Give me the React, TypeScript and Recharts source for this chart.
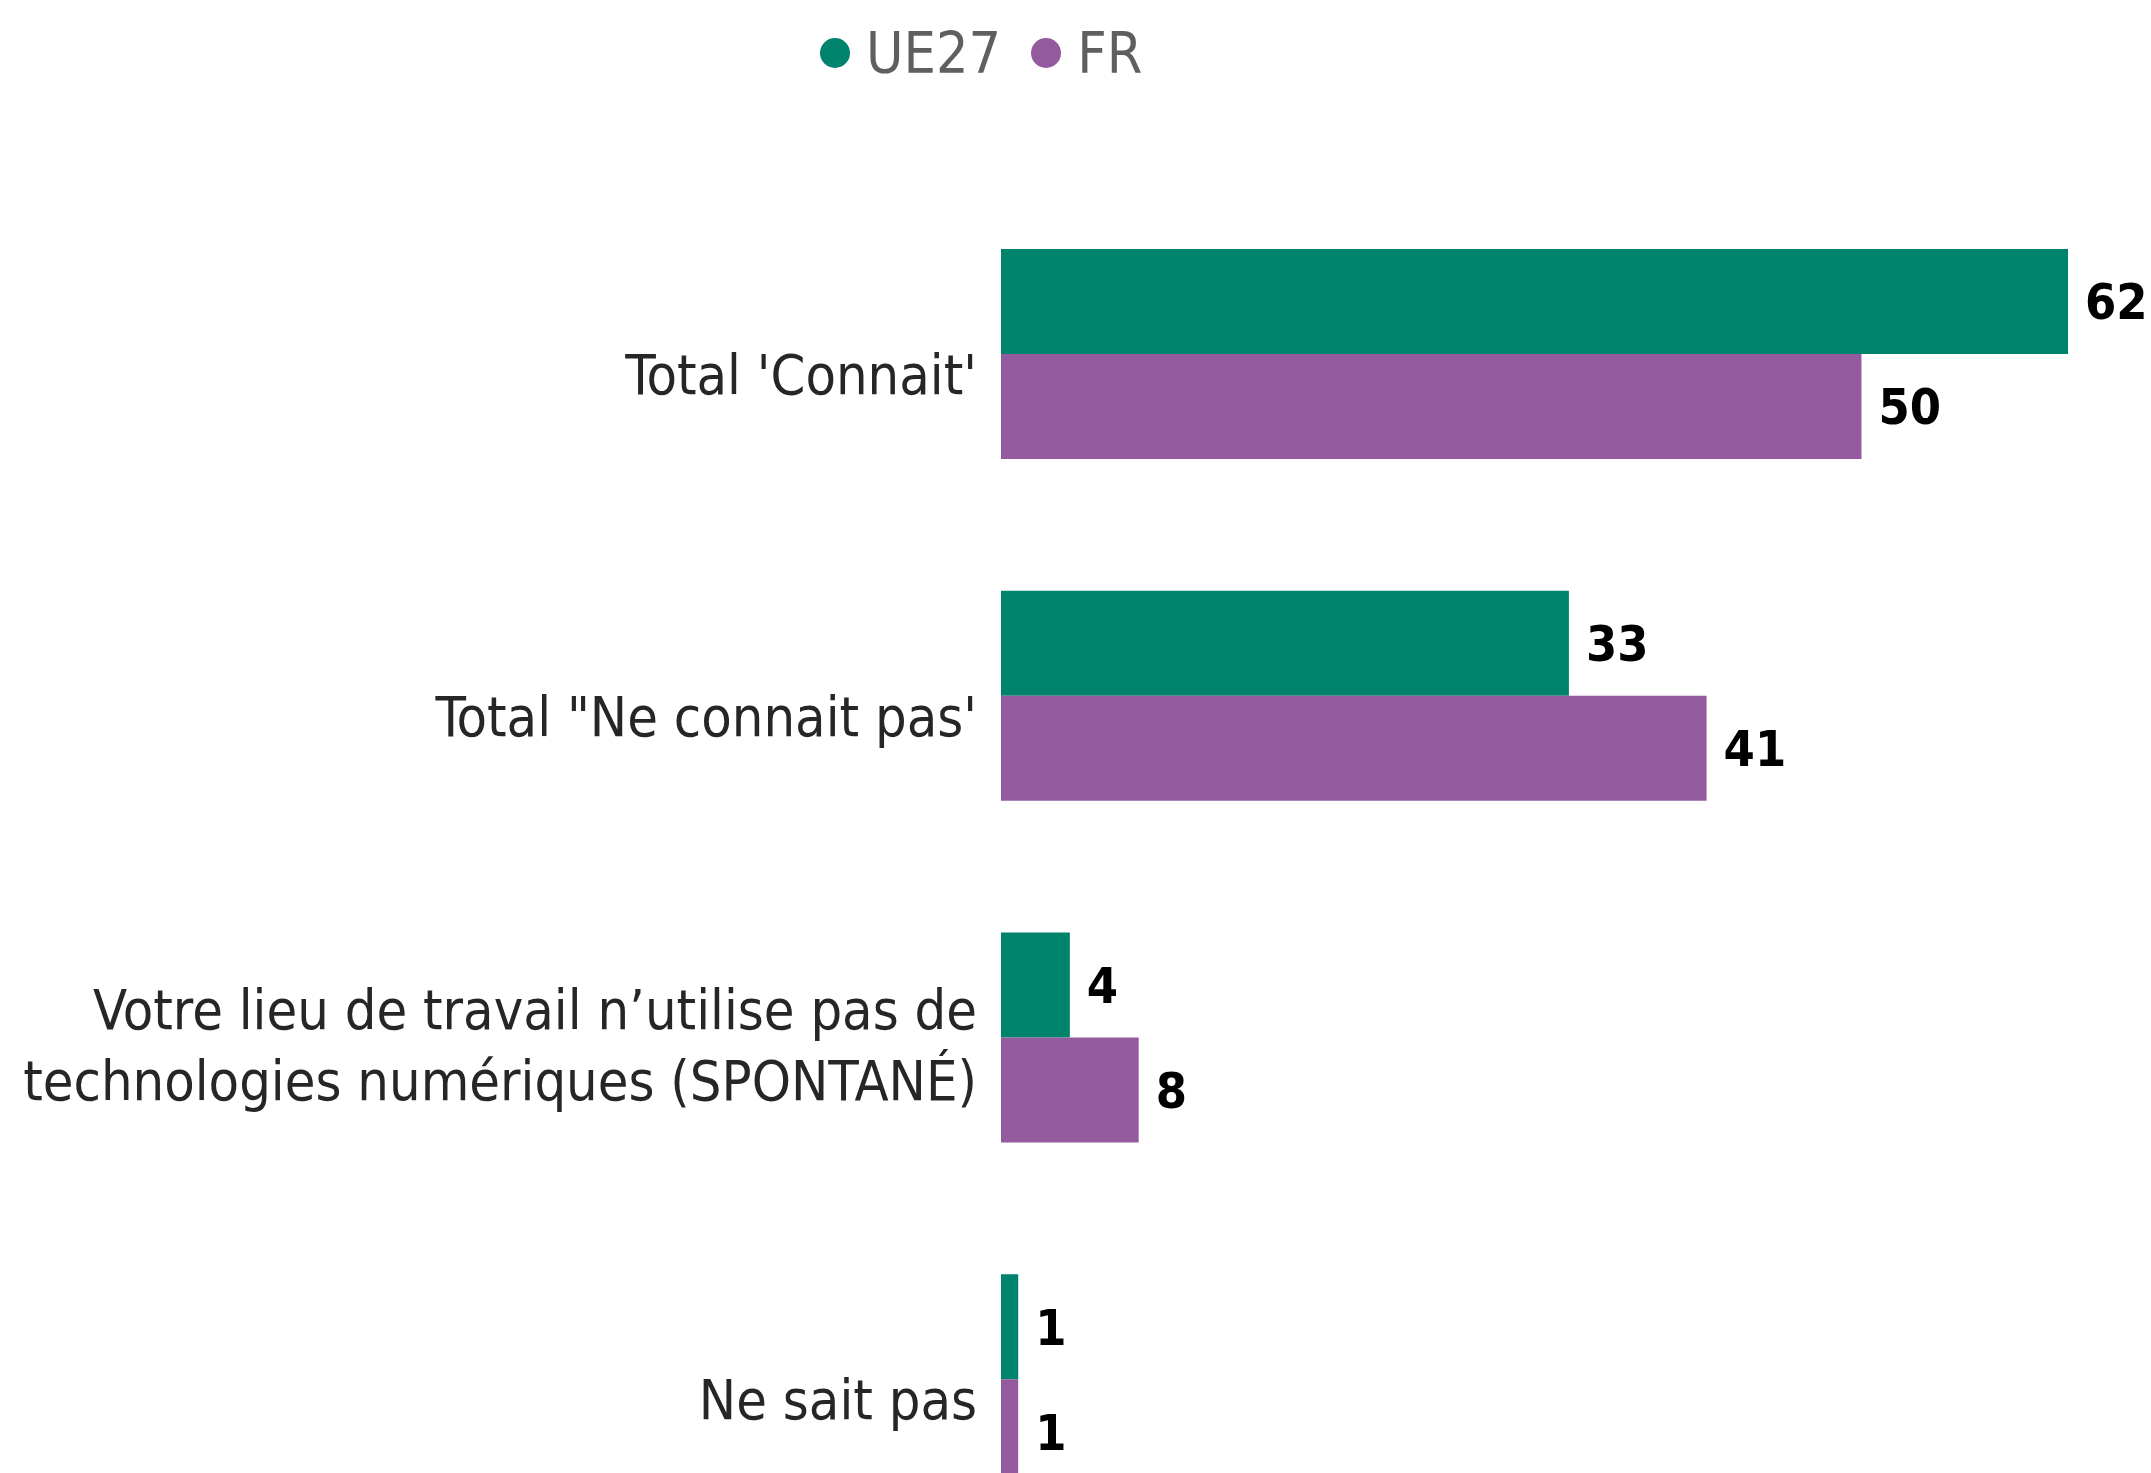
import { BarChart, Bar, XAxis, YAxis, LabelList } from "recharts";

const categories = [
  "Total 'Connait'",
  'Total "Ne connait pas\'',
  "Votre lieu de travail n’utilise pas de|technologies numériques (SPONTANÉ)",
  "Ne sait pas",
];
const ue27 = [62, 33, 4, 1];
const fr = [50, 41, 8, 1];
const seriesNames = ["UE27", "FR"];

const data = categories.map((name, i) => ({ name, ue27: ue27[i], fr: fr[i] }));

const GREEN = "#00836D";
const PURPLE = "#935A9D";
const FONT = "'DejaVu Sans Condensed', 'DejaVu Sans', sans-serif";

const CategoryTick = (props: any) => {
  const { x, y, payload } = props;
  const lines = String(payload.value).split("|");
  const first = y + 40 - (lines.length - 1) * 48;
  return (
    <text x={x} y={first} textAnchor="end" fill="#262626" fontSize={55.5} fontFamily={FONT}>
      {lines.map((l, i) => (
        <tspan key={i} x={x} dy={i === 0 ? 0 : 71}>
          {l}
        </tspan>
      ))}
    </text>
  );
};

const LegendBox = () => (
  <div
    style={{
      position: "absolute",
      top: 19,
      left: 820,
      display: "flex",
      alignItems: "center",
      fontFamily: FONT,
      fontSize: 57,
      color: "#5f5f5f",
      lineHeight: "68px",
    }}
  >
    {seriesNames.map((label, i) => (
      <div key={label} style={{ display: "flex", alignItems: "center", marginRight: 30 }}>
        <span
          style={{
            width: 30,
            height: 30,
            borderRadius: 15,
            background: i === 0 ? GREEN : PURPLE,
            marginRight: 16,
            display: "inline-block",
          }}
        />
        <span>{label}</span>
      </div>
    ))}
  </div>
);

export default function App() {
  return (
    <div style={{ position: "absolute", left: 0, top: 0, width: 2151, height: 1473, overflow: "hidden", background: "#fff" }}>
      <LegendBox />
      <BarChart
        width={2151}
        height={1560}
        data={data}
        layout="vertical"
        barSize={105}
        barGap={0}
        margin={{ top: 183, right: 83, bottom: 10, left: 0 }}
      >
        <XAxis type="number" domain={[0, 62]} hide />
        <YAxis
          type="category"
          dataKey="name"
          width={1001}
          axisLine={false}
          tickLine={false}
          tickSize={0}
          tickMargin={24}
          interval={0}
          tick={<CategoryTick />}
        />
        <Bar dataKey="ue27" name={seriesNames[0]} fill={GREEN} isAnimationActive={false}>
          <LabelList dataKey="ue27" position="right" offset={17} fill="#000" fontSize={50} fontWeight="bold" fontFamily={FONT} />
        </Bar>
        <Bar dataKey="fr" name={seriesNames[1]} fill={PURPLE} isAnimationActive={false}>
          <LabelList dataKey="fr" position="right" offset={17} fill="#000" fontSize={50} fontWeight="bold" fontFamily={FONT} />
        </Bar>
      </BarChart>
    </div>
  );
}
